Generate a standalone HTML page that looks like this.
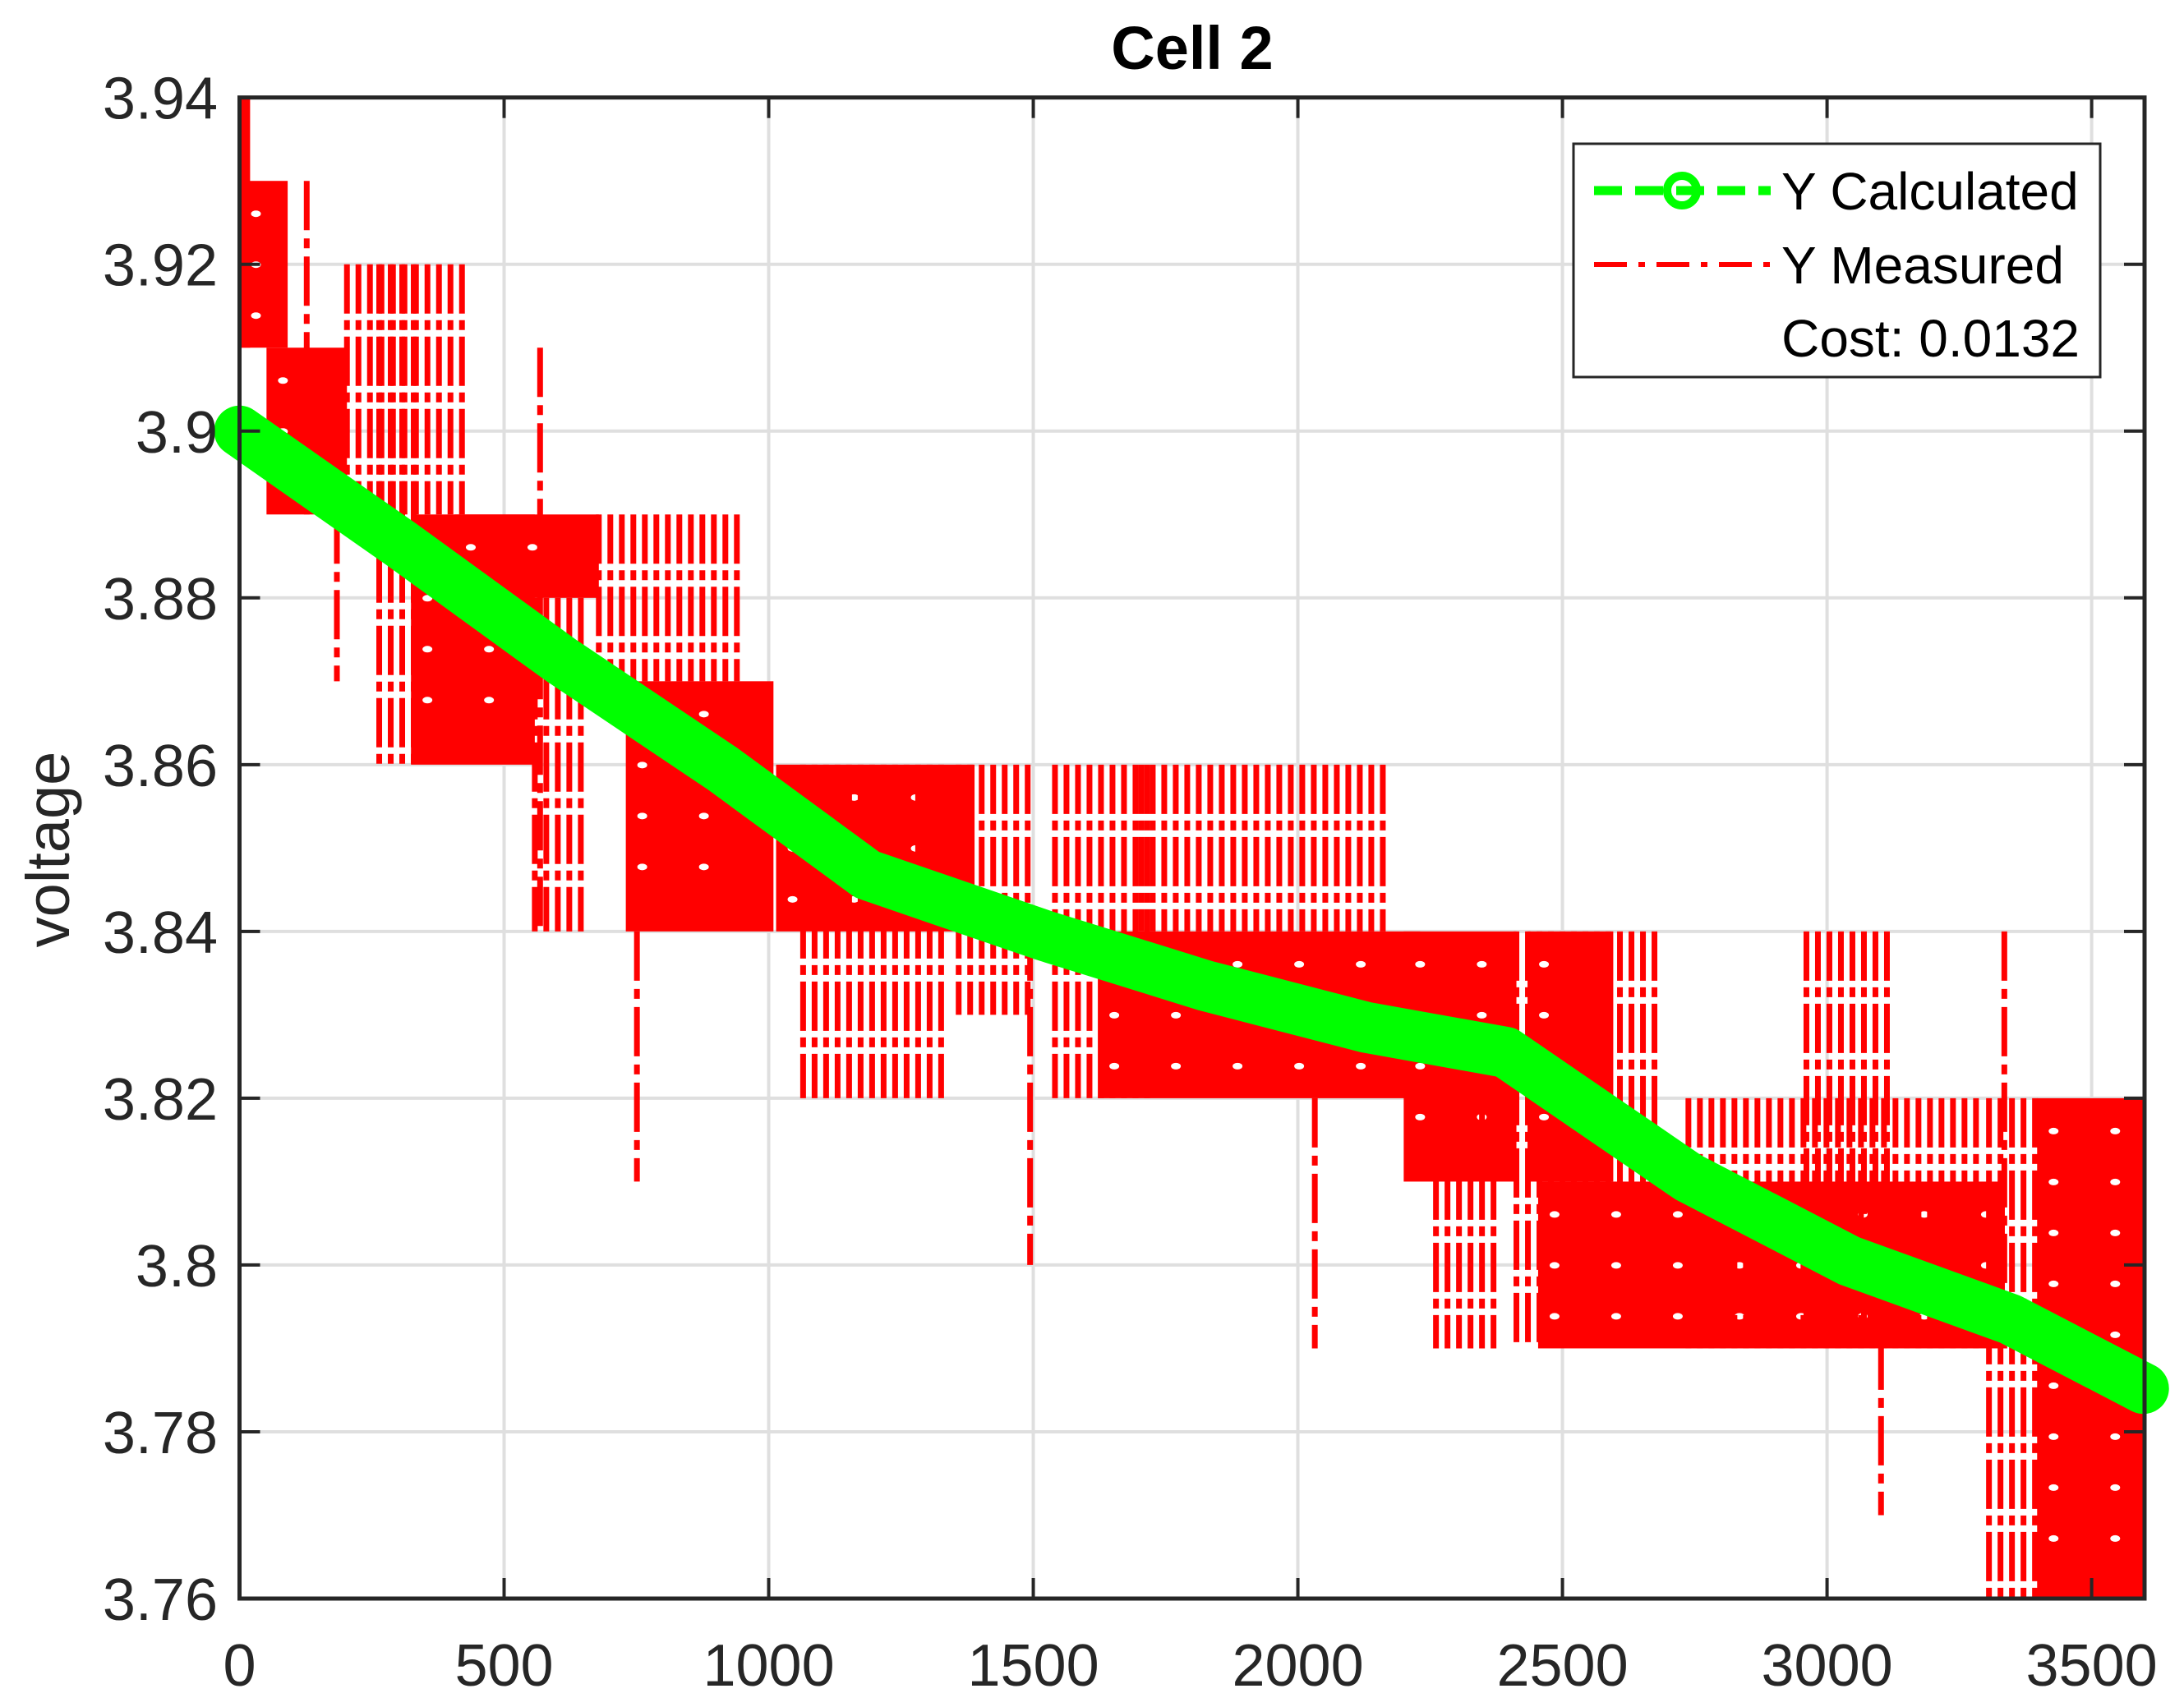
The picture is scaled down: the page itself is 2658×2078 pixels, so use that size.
<!DOCTYPE html>
<html><head><meta charset="utf-8"><style>
html,body{margin:0;padding:0;background:#fff;}
svg{display:block;font-family:"Liberation Sans",Arial,sans-serif;}
</style></head><body>
<svg id="chart" width="2658" height="2078" viewBox="0 0 2658 2078" xmlns="http://www.w3.org/2000/svg">
<rect x="0" y="0" width="2658" height="2078" fill="#fff"/>
<g id="grid"></g>
<g id="meas"></g>
<g id="calc"></g>
<g id="axes"></g>
<text x="1451" y="84" text-anchor="middle" font-size="74" font-weight="bold" fill="#000">Cell 2</text>
<text transform="translate(84,1034) rotate(-90)" text-anchor="middle" font-size="74" fill="#262626">voltage</text>
<g>
<rect x="1915" y="175" width="641" height="284" fill="#fff" stroke="#262626" stroke-width="3"/>
<g>
<line x1="1940" y1="232" x2="2155" y2="232" stroke="#00ff00" stroke-width="11" stroke-dasharray="34 16"/>
<circle cx="2047" cy="232" r="18" fill="none" stroke="#00ff00" stroke-width="10"/>
<text x="2168" y="255" font-size="64" fill="#000">Y Calculated</text>
</g>
<g>
<line x1="1940" y1="322" x2="2155" y2="322" stroke="#ff0000" stroke-width="6" stroke-dasharray="40 14 8 14"/>
<text x="2168" y="345" font-size="64" fill="#000">Y Measured</text>
</g>
<text x="2531" y="434" text-anchor="end" font-size="64" fill="#000">Cost: 0.0132</text>
</g>
</svg>
<script>
const xTicks=[0,500,1000,1500,2000,2500,3000,3500];
const yTicks=[3.76,3.78,3.8,3.82,3.84,3.86,3.88,3.9,3.92,3.94];
const yTickLabels=["3.76","3.78","3.8","3.82","3.84","3.86","3.88","3.9","3.92","3.94"];
// measured blocks: start, end, low, high, kind (1=dense, 0=sparse lines)
const blockStart=[0,0,51,203,264,324,406,558,679,730,1014,1065,1359,1541,1622,1704,2200,2261,2413,2434,2454,2738,2961,3306,3397];
const blockEnd=[20,91,203,426,335,558,679,659,953,1009,1389,1338,1496,1724,2231,2165,2413,2383,2687,2596,3336,3296,3123,3397,3600];
const blockLow=[3.91,3.91,3.89,3.89,3.86,3.86,3.88,3.84,3.87,3.84,3.84,3.82,3.83,3.82,3.82,3.84,3.81,3.79,3.79,3.81,3.79,3.79,3.79,3.76,3.76];
const blockHigh=[3.94,3.93,3.91,3.92,3.92,3.89,3.89,3.88,3.89,3.87,3.86,3.86,3.86,3.86,3.84,3.86,3.84,3.82,3.84,3.84,3.81,3.82,3.84,3.82,3.82];
const blockKind=[1,1,1,0,0,1,1,0,0,1,1,0,0,0,1,0,1,0,0,1,1,0,0,0,1];
const spikeX=[127,184,568,751,1494,2032,3102,3335];
const spikeLow=[3.89,3.87,3.84,3.81,3.80,3.79,3.77,3.79];
const spikeHigh=[3.93,3.89,3.91,3.84,3.84,3.82,3.80,3.84];
const calcX=[0,304,608,913,1186,1521,1825,2129,2393,2738,3042,3346,3598];
const calcY=[3.9,3.8865,3.8725,3.8595,3.8468,3.8395,3.8335,3.8285,3.8255,3.8105,3.8005,3.7935,3.7852];

const L=291.5,R=2610,T=118.7,B=1946,XMAX=3600,YMIN=3.76,YMAX=3.94;
const sx=v=>L+(R-L)*v/XMAX;
const sy=v=>B-(B-T)*(v-YMIN)/(YMAX-YMIN);
const NS='http://www.w3.org/2000/svg';
function mk(tag,attrs,parent){const e=document.createElementNS(NS,tag);for(const k in attrs)e.setAttribute(k,attrs[k]);parent.appendChild(e);return e;}
const grid=document.getElementById('grid'),axes=document.getElementById('axes'),meas=document.getElementById('meas'),calc=document.getElementById('calc');

xTicks.forEach(t=>{
 const g=mk('line',{x1:sx(t),x2:sx(t),y1:T,y2:B,stroke:'#dfdfdf','stroke-width':4},grid);
 
 
 mk('line',{x1:sx(t),x2:sx(t),y1:B,y2:B-25,stroke:'#262626','stroke-width':4},axes);
 mk('line',{x1:sx(t),x2:sx(t),y1:T,y2:T+25,stroke:'#262626','stroke-width':4},axes);
 const tx=mk('text',{x:sx(t),y:2052,'text-anchor':'middle','font-size':'72',fill:'#262626'},axes);
 tx.textContent=String(t);
 
 
});
yTicks.forEach((t,i)=>{
 const g=mk('line',{x1:L,x2:R,y1:sy(t),y2:sy(t),stroke:'#dfdfdf','stroke-width':4},grid);
 
 
 mk('line',{x1:L,x2:L+25,y1:sy(t),y2:sy(t),stroke:'#262626','stroke-width':4},axes);
 mk('line',{x1:R,x2:R-25,y1:sy(t),y2:sy(t),stroke:'#262626','stroke-width':4},axes);
 const tx=mk('text',{x:265,y:sy(t)+26,'text-anchor':'end','font-size':'72',fill:'#262626'},axes);
 tx.textContent=yTickLabels[i];
 
 
});
const box=mk('rect',{x:L,y:T,width:R-L,height:B-T,fill:'none',stroke:'#262626','stroke-width':5},axes);



blockStart.forEach((s,i)=>{
 const x0=sx(s),x1=sx(blockEnd[i]),y0=sy(blockHigh[i]),y1=sy(blockLow[i]);
 if(blockKind[i]){
  const r=mk('rect',{x:x0,y:y0,width:x1-x0,height:y1-y0,fill:'#ff0000'},meas);
  
  
  for(let yy=y0+40;yy<y1-20;yy+=62){for(let xx=x0+20;xx<x1-10;xx+=75){
   mk('ellipse',{cx:xx,cy:yy,rx:6,ry:4,fill:'#fff'},meas);}}
 } else {
  for(let xx=x0;xx<=x1;xx+=14){
   const l=mk('line',{x1:xx,x2:xx,y1:y0,y2:y1,stroke:'#ff0000','stroke-width':7,'stroke-dasharray':'60 8 12 8'},meas);
   
   
  }
 }
});
spikeX.forEach((s,i)=>{
 const l=mk('line',{x1:sx(s),x2:sx(s),y1:sy(spikeHigh[i]),y2:sy(spikeLow[i]),stroke:'#ff0000','stroke-width':7,'stroke-dasharray':'60 10 12 10'},meas);
 
 
});
const pts=calcX.map((x,i)=>sx(x)+','+sy(calcY[i])).join(' ');
const pl=mk('polyline',{points:pts,fill:'none',stroke:'#00ff00','stroke-width':62,'stroke-linecap':'round','stroke-linejoin':'round'},calc);


</script>
</body></html>
